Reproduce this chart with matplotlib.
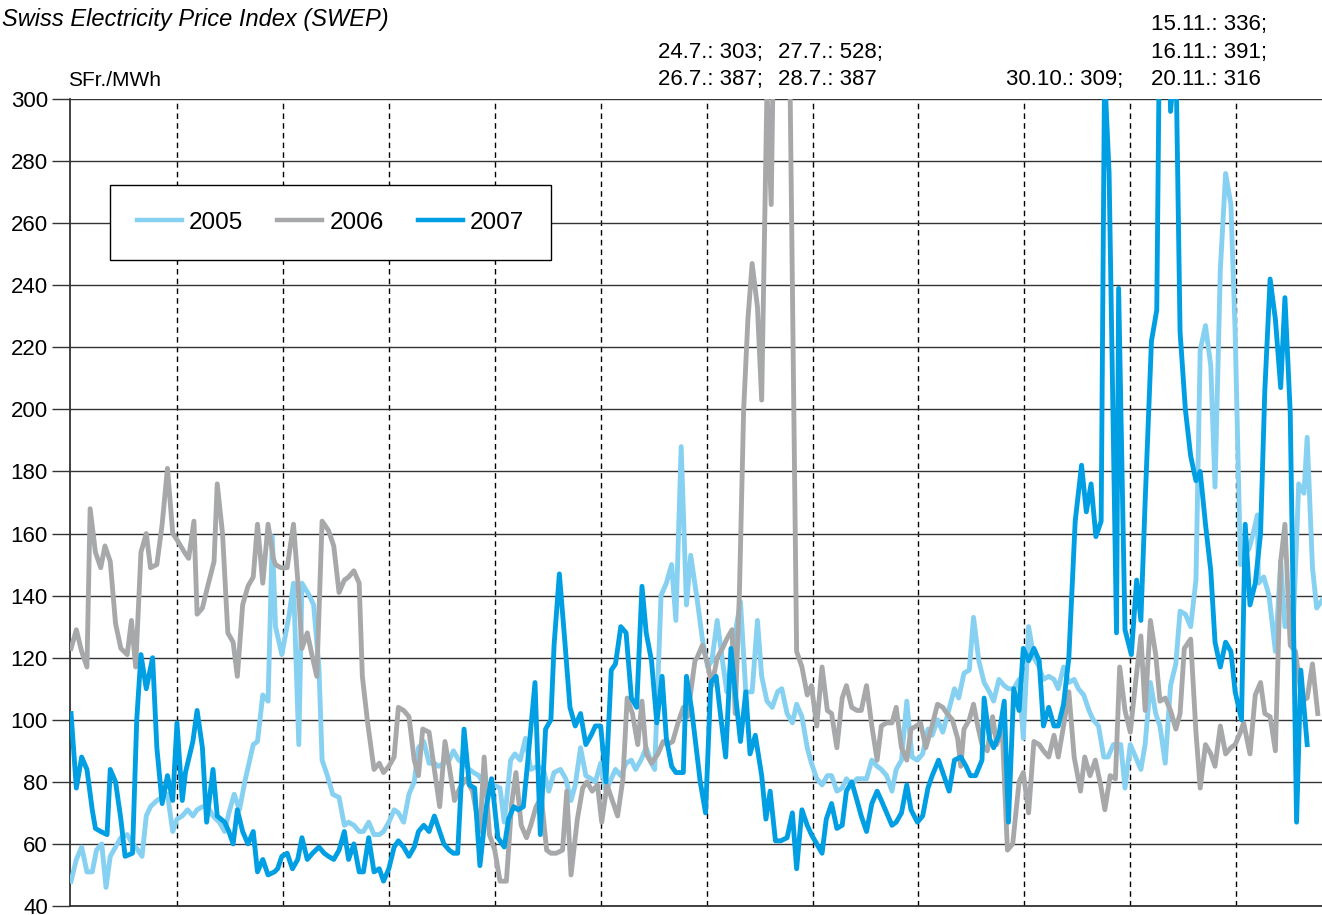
import matplotlib.pyplot as plt

plt.rcParams['font.family'] = ['Liberation Sans', 'DejaVu Sans']

# Daily SWEP base price, SFr./MWh. Time axis in months since 1 January.
months_2005 = [
    0.00, 0.05, 0.10, 0.15, 0.20, 0.24, 0.29, 0.33, 0.37, 0.42, 0.47, 0.53, 0.58, 0.61,
    0.67, 0.71, 0.75, 0.81, 0.86, 0.91, 0.96, 1.00, 1.05, 1.10, 1.15, 1.19, 1.24, 1.29,
    1.34, 1.40, 1.45, 1.49, 1.54, 1.59, 1.64, 1.72, 1.76, 1.81, 1.86, 1.90,
    1.93, 1.99, 2.06, 2.10, 2.15, 2.18, 2.25, 2.29, 2.34, 2.37, 2.42, 2.47, 2.53, 2.58,
    2.62, 2.67, 2.72, 2.76, 2.81, 2.86, 2.91, 2.95, 3.00, 3.05, 3.09, 3.14, 3.19, 3.24,
    3.28, 3.33, 3.38, 3.43, 3.47, 3.52, 3.57, 3.61, 3.66, 3.71, 3.76, 3.80, 3.85, 3.90,
    3.92, 3.99, 4.05, 4.09, 4.15, 4.19, 4.24, 4.29, 4.34, 4.40, 4.46, 4.51, 4.56, 4.62,
    4.67, 4.72, 4.76, 4.81, 4.86, 4.91, 4.95, 5.00, 5.05, 5.10, 5.14, 5.19, 5.24, 5.29,
    5.33, 5.38, 5.43, 5.48, 5.51, 5.57, 5.62, 5.67, 5.71, 5.76, 5.81, 5.85,
    5.91, 5.96, 6.01, 6.05, 6.10, 6.15, 6.19, 6.24, 6.28, 6.32, 6.37, 6.43, 6.48, 6.52,
    6.57, 6.62, 6.67, 6.71, 6.76, 6.81, 6.85, 6.90, 6.95, 6.99, 7.04, 7.09, 7.14, 7.18,
    7.23, 7.28, 7.32, 7.37, 7.42, 7.46, 7.51, 7.56, 7.61, 7.65, 7.70, 7.75, 7.79, 7.84,
    7.89, 7.94, 7.99, 8.04, 8.09, 8.13, 8.18, 8.23, 8.27, 8.34, 8.38, 8.43, 8.48, 8.52,
    8.57, 8.62, 8.67, 8.71, 8.76, 8.81, 8.85, 8.90, 8.95, 8.99, 9.04, 9.09, 9.14, 9.18,
    9.23, 9.28, 9.32, 9.37, 9.42, 9.47, 9.51, 9.56, 9.61, 9.65, 9.70, 9.75, 9.79, 9.84,
    9.91, 9.95, 10.00, 10.05, 10.10, 10.14, 10.19, 10.24, 10.28, 10.33, 10.38, 10.43,
    10.47, 10.52, 10.57, 10.62, 10.66, 10.71, 10.76, 10.80, 10.85, 10.90, 10.95, 10.99,
    11.04, 11.07, 11.12, 11.16, 11.20, 11.21, 11.26, 11.31, 11.37, 11.42, 11.46, 11.54,
    11.59, 11.64, 11.67, 11.72, 11.76, 11.82,
]
swep_2005 = [
    48, 55, 59, 51, 51, 58, 60, 46, 56, 59, 62, 63, 60, 59,
    56, 69, 72, 74, 75, 76, 64, 68, 69, 71, 69, 71, 72, 72,
    69, 67, 64, 70, 76, 71, 80, 92, 93, 108, 106, 159,
    130, 121, 134, 144, 92, 144, 140, 137, 117, 87, 82, 76, 75, 66,
    67, 66, 64, 64, 67, 63, 63, 64, 67, 71, 70, 67, 76, 80,
    91, 93, 86, 86, 85, 86, 87, 90, 87, 86, 84, 83, 82, 79,
    79, 79, 78, 67, 87, 89, 87, 94, 84, 85, 84, 77, 83, 84,
    81, 74, 79, 91, 82, 81, 80, 86, 77, 81, 84, 82, 86, 87,
    84, 87, 91, 86, 84, 140, 144, 150, 132, 188, 137, 153,
    139, 126, 117, 119, 132, 119, 109, 121, 130, 138, 109, 109, 132, 114,
    106, 104, 109, 110, 102, 99, 105, 101, 91, 86, 81, 79, 82, 82,
    77, 78, 81, 79, 81, 81, 81, 87, 85, 84, 82, 77, 84, 87,
    106, 88, 87, 89, 97, 95, 100, 96, 101, 110, 107, 115, 116, 133,
    119, 112, 109, 106, 113, 111, 110, 110, 113, 94, 130, 120, 117, 113,
    114, 113, 110, 117, 112, 113, 110, 108, 103, 100, 98, 88, 88, 92,
    92, 78, 92, 88, 84, 92, 112, 102, 98, 86, 111, 118,
    135, 134, 130, 145, 219, 227, 214, 175, 245, 276, 266, 225,
    150, 153, 155, 160, 166, 144, 146, 140, 122, 151, 130, 131,
    176, 173, 191, 149, 136, 139,
]

months_2006 = [
    0.00, 0.05, 0.10, 0.15, 0.18, 0.23, 0.28, 0.32, 0.37, 0.42, 0.47, 0.53, 0.57, 0.61,
    0.66, 0.71, 0.75, 0.81, 0.86, 0.91, 0.96, 1.00, 1.07, 1.11, 1.16, 1.19, 1.24, 1.29,
    1.35, 1.38, 1.43, 1.48, 1.53, 1.57, 1.62, 1.67, 1.72, 1.76, 1.81, 1.86, 1.91,
    1.93, 1.98, 2.04, 2.10, 2.14, 2.18, 2.23, 2.28, 2.32, 2.37, 2.43, 2.48, 2.53, 2.58,
    2.62, 2.67, 2.72, 2.75, 2.80, 2.86, 2.91, 2.95, 3.00, 3.05, 3.09, 3.14, 3.19, 3.24,
    3.28, 3.32, 3.38, 3.43, 3.48, 3.53, 3.57, 3.62, 3.67, 3.73, 3.79, 3.86, 3.90, 3.95,
    4.00, 4.05, 4.11, 4.16, 4.20, 4.25, 4.30, 4.34, 4.39, 4.44, 4.49, 4.53, 4.58,
    4.64, 4.68, 4.72, 4.78, 4.83, 4.87, 4.92, 4.97, 5.01, 5.06, 5.11, 5.16, 5.21, 5.25,
    5.30, 5.35, 5.39, 5.43, 5.48, 5.54, 5.59, 5.63, 5.68, 5.73, 5.78, 5.82, 5.89,
    5.91, 5.96, 6.01, 6.05, 6.10, 6.15, 6.19, 6.24, 6.27, 6.31, 6.35, 6.39, 6.43, 6.48,
    6.52, 6.57, 6.61, 6.66, 6.71, 6.76, 6.85, 6.90, 6.95, 6.99, 7.04, 7.09, 7.14, 7.18,
    7.23, 7.28, 7.32, 7.37, 7.42, 7.46, 7.51, 7.56, 7.61, 7.65, 7.70, 7.75, 7.79, 7.84,
    7.89, 7.93, 7.98, 8.02, 8.07, 8.12, 8.18, 8.23, 8.27, 8.32, 8.37, 8.40, 8.43, 8.48,
    8.52, 8.56, 8.60, 8.65, 8.70, 8.74, 8.79, 8.84, 8.89, 8.95, 8.99, 9.04, 9.09, 9.14,
    9.18, 9.23, 9.28, 9.32, 9.37, 9.42, 9.47, 9.53, 9.57, 9.62, 9.67, 9.72, 9.76, 9.81,
    9.86, 9.90, 9.95, 10.00, 10.05, 10.10, 10.14, 10.19, 10.24, 10.28, 10.33, 10.38,
    10.43, 10.47, 10.51, 10.57, 10.62, 10.66, 10.71, 10.76, 10.80, 10.85, 10.90, 10.95,
    10.99, 11.04, 11.07, 11.13, 11.18, 11.23, 11.27, 11.32, 11.37, 11.42, 11.46, 11.51,
    11.56, 11.62, 11.67, 11.72, 11.77,
]
swep_2006 = [
    123, 129, 122, 117, 168, 154, 149, 156, 151, 131, 123, 121, 132, 117,
    154, 160, 149, 150, 163, 181, 160, 158, 154, 152, 164, 134, 136, 143,
    151, 176, 160, 128, 125, 114, 137, 143, 146, 163, 144, 163, 152,
    150, 149, 149, 163, 145, 123, 128, 120, 114, 164, 161, 156, 141, 145,
    146, 148, 144, 114, 99, 84, 86, 83, 85, 88, 104, 103, 101, 87,
    82, 97, 96, 84, 72, 93, 85, 74, 78, 81, 77, 64, 88, 63,
    58, 48, 48, 73, 83, 66, 62, 66, 72, 75, 58, 57, 57,
    58, 77, 50, 68, 78, 80, 77, 79, 67, 79, 74, 69, 81, 107,
    102, 92, 106, 89, 86, 89, 93, 92, 93, 99, 104, 101, 119,
    120, 124, 118, 111, 120, 123, 126, 129, 102, 141, 200, 229, 247, 233,
    203, 303, 266, 387, 528, 387, 122, 117, 108, 111, 98, 117, 103, 102,
    91, 107, 111, 104, 103, 103, 111, 98, 87, 98, 99, 99, 104, 91,
    87, 97, 98, 99, 91, 97, 105, 104, 102, 100, 94, 85, 97, 100,
    105, 98, 92, 90, 101, 92, 98, 58, 60, 80, 83, 70, 93, 92,
    90, 88, 95, 88, 98, 109, 88, 77, 88, 82, 87, 79, 71, 82,
    81, 117, 103, 96, 112, 127, 103, 132, 121, 106, 107, 103,
    97, 102, 123, 126, 96, 78, 92, 89, 85, 98, 89, 91,
    92, 96, 99, 89, 108, 112, 102, 101, 90, 151, 163, 124,
    122, 106, 107, 118, 102,
]

months_2007 = [
    0.00, 0.05, 0.10, 0.15, 0.20, 0.23, 0.28, 0.34, 0.37, 0.42, 0.47, 0.51, 0.58, 0.62,
    0.66, 0.71, 0.77, 0.81, 0.86, 0.91, 0.96, 1.00, 1.05, 1.08, 1.15, 1.19, 1.24, 1.28,
    1.34, 1.38, 1.45, 1.49, 1.53, 1.57, 1.62, 1.67, 1.72, 1.76, 1.81, 1.86, 1.92,
    1.95, 1.99, 2.04, 2.09, 2.14, 2.18, 2.23, 2.28, 2.34, 2.39, 2.43, 2.48, 2.53, 2.58,
    2.62, 2.67, 2.72, 2.76, 2.81, 2.86, 2.91, 2.95, 3.00, 3.05, 3.09, 3.14, 3.19, 3.24,
    3.28, 3.33, 3.38, 3.43, 3.47, 3.52, 3.57, 3.61, 3.65, 3.71, 3.76, 3.81, 3.86, 3.92,
    3.97, 4.03, 4.09, 4.13, 4.18, 4.22, 4.27, 4.31, 4.38, 4.43, 4.48, 4.53, 4.56,
    4.61, 4.66, 4.71, 4.76, 4.81, 4.86, 4.91, 4.95, 5.00, 5.05, 5.10, 5.14, 5.19, 5.24,
    5.29, 5.34, 5.39, 5.43, 5.48, 5.53, 5.58, 5.62, 5.67, 5.71, 5.78, 5.81, 5.86,
    5.94, 5.99, 6.04, 6.09, 6.13, 6.18, 6.23, 6.27, 6.32, 6.37, 6.41, 6.46, 6.52, 6.56,
    6.60, 6.65, 6.70, 6.76, 6.81, 6.85, 6.90, 6.95, 6.99, 7.04, 7.09, 7.13, 7.18, 7.23,
    7.28, 7.32, 7.37, 7.42, 7.46, 7.51, 7.56, 7.61, 7.65, 7.70, 7.75, 7.79, 7.84,
    7.89, 7.93, 7.99, 8.04, 8.09, 8.13, 8.19, 8.24, 8.29, 8.34, 8.40, 8.45, 8.49, 8.54,
    8.60, 8.62, 8.67, 8.71, 8.76, 8.81, 8.85, 8.90, 8.95, 8.99, 9.04, 9.09, 9.14, 9.18,
    9.23, 9.28, 9.32, 9.37, 9.42, 9.48, 9.54, 9.585, 9.63, 9.675, 9.725, 9.757, 9.80, 9.87,
    9.89, 9.95, 10.01, 10.06, 10.10, 10.14, 10.20, 10.25, 10.28, 10.33, 10.38, 10.43,
    10.47, 10.52, 10.57, 10.62, 10.66, 10.71, 10.76, 10.80, 10.85, 10.90, 10.95, 10.99,
    11.05, 11.085, 11.13, 11.18, 11.23, 11.27, 11.32, 11.37, 11.42, 11.46, 11.51, 11.57,
    11.61, 11.67,
]
swep_2007 = [
    102, 78, 88, 84, 71, 65, 64, 63, 84, 80, 68, 56, 57, 100,
    121, 110, 120, 91, 73, 82, 74, 99, 74, 83, 93, 103, 91, 67,
    84, 69, 67, 64, 60, 71, 64, 60, 64, 51, 55, 50, 51,
    52, 56, 57, 52, 55, 62, 55, 57, 59, 57, 56, 55, 58, 64,
    55, 60, 51, 51, 62, 51, 52, 48, 52, 59, 61, 59, 56, 59,
    64, 66, 64, 69, 65, 60, 58, 57, 57, 97, 79, 78, 53, 72,
    81, 62, 59, 68, 72, 71, 72, 86, 112, 63, 97, 100, 124,
    147, 126, 104, 98, 102, 92, 95, 98, 98, 80, 116, 118, 130, 128,
    107, 104, 143, 128, 119, 99, 114, 94, 85, 83, 83, 114, 103,
    80, 70, 112, 114, 102, 88, 123, 109, 93, 109, 89, 95, 82, 68,
    77, 61, 61, 62, 70, 52, 71, 66, 63, 60, 57, 68, 73, 65,
    66, 77, 80, 74, 69, 64, 73, 77, 74, 70, 66, 67, 70,
    79, 71, 67, 69, 78, 82, 87, 82, 77, 87, 88, 85, 82, 82,
    87, 107, 94, 91, 95, 106, 67, 110, 103, 123, 119, 123, 119, 98,
    104, 98, 98, 105, 120, 164, 182, 167, 176, 159, 164, 309, 276, 128,
    239, 129, 121, 145, 132, 170, 222, 232, 336, 391, 296, 316,
    225, 200, 185, 177, 180, 163, 148, 125, 117, 125, 122, 109,
    100, 163, 137, 144, 160, 206, 242, 229, 207, 236, 199, 67,
    116, 92,
]

years = ["2005", "2006", "2007"]
colors = ["#86D0F1", "#A7A8AA", "#009FE3"]

# values above the axis limit, written out over the plot
notes = [
    (658, ["24.7.: 303;", "26.7.: 387;"]),
    (778, ["27.7.: 528;", "28.7.: 387"]),
    (1006, ["30.10.: 309;"]),
    (1151, ["15.11.: 336;", "16.11.: 391;", "20.11.: 316"]),
]

W, H = 1322, 915
fig = plt.figure(figsize=(W / 100, H / 100), dpi=100)
ax = fig.add_axes([70 / W, 9 / H, 1252 / W, 807 / H])

series = [(months_2005, swep_2005), (months_2006, swep_2006), (months_2007, swep_2007)]
for (t, v), year, col in zip(series, years, colors):
    ax.plot(t, v, color=col, lw=3.5, label=year, zorder=3)

ax.set_xlim(-0.01, 11.81)
ax.set_ylim(40, 300)
ax.set_yticks(range(40, 301, 20))
ax.set_xticks([])

ax.grid(axis="y", color="#333333", lw=1.0, zorder=1)
for m in range(1, 12):
    ax.axvline(m, color="black", lw=1.0, dashes=(4, 3), zorder=1)

for side in ["top", "right"]:
    ax.spines[side].set_visible(False)
for side in ["left", "bottom"]:
    ax.spines[side].set_color("#333333")
    ax.spines[side].set_linewidth(1.3)

ax.tick_params(axis="y", length=13, width=1.0, color="#333333", pad=3, labelsize=16)

leg = ax.legend(
    loc="upper left", bbox_to_anchor=((110 - 70) / 1252, (906 - 185) / 807),
    ncol=3, fontsize=17.5, handlelength=1.85, handletextpad=0.3, columnspacing=1.4,
    borderpad=1.1, borderaxespad=0, fancybox=False, framealpha=1, edgecolor="black",
)
leg.get_frame().set_linewidth(1.0)
for line in leg.get_lines():
    line.set_linewidth(3.2)

fig.text(2 / W, 1 - 26 / H, "Swiss Electricity Price Index (SWEP)",
         fontsize=17, style="italic", va="baseline")
fig.text(68 / W, 1 - 86 / H, "SFr./MWh", fontsize=15, va="baseline")

baselines = [30, 58, 85]
for x, lines in notes:
    start = len(baselines) - len(lines)
    for row, txt in enumerate(lines):
        fig.text(x / W, 1 - baselines[start + row] / H, txt, fontsize=16, va="baseline")

fig.savefig("out.png", dpi=100)
